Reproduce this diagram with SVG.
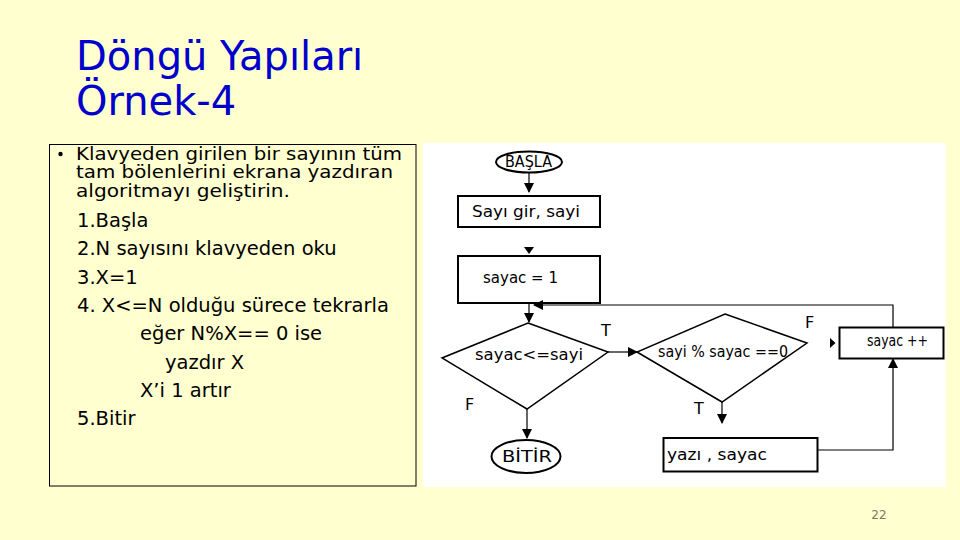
<svg xmlns="http://www.w3.org/2000/svg" width="960" height="540" viewBox="0 0 960 540">
  <style>
    .title { font-family: "DejaVu Sans", "Liberation Sans", sans-serif; font-size: 40px; fill: #0000CC; }
    .body { font-family: "DejaVu Sans", "Liberation Sans", sans-serif; font-size: 19.5px; fill: #000; }
    .tight { font-size: 17px; }
    .fc { font-family: "DejaVu Sans", "Liberation Sans", sans-serif; font-size: 15px; fill: #000; }
    .lbl { font-family: "DejaVu Sans", "Liberation Sans", sans-serif; font-size: 16px; fill: #000; }
    .shape { fill: #fff; stroke: #000; stroke-width: 2; }
    .dia { fill: #fff; stroke: #000; stroke-width: 1.5; }
    .conn { fill: none; stroke: #000; stroke-width: 1.2; }
    .head { fill: #000; }
  </style>
  <defs>
    <marker id="arr" markerUnits="userSpaceOnUse" markerWidth="10" markerHeight="10" refX="9" refY="5" orient="auto">
      <path d="M0,0 L10,5 L0,10 z" fill="#000"/>
    </marker>
  </defs>

  <rect x="0" y="0" width="960" height="540" fill="#FFFFD0"/>

  <g id="title">
    <text class="title" x="76" y="70">Döngü Yapıları</text>
    <text class="title" x="76" y="115">Örnek-4</text>
  </g>

  <g id="textbox">
    <rect x="49.5" y="144.5" width="366.5" height="341.5" fill="#FFFFD0" stroke="#000" stroke-width="1"/>
    <circle cx="60.5" cy="154" r="2.2" fill="#000"/>
    <text class="body tight" x="76" y="159.5" textLength="326" lengthAdjust="spacingAndGlyphs">Klavyeden girilen bir sayının tüm</text>
    <text class="body tight" x="76" y="178" textLength="317" lengthAdjust="spacingAndGlyphs">tam bölenlerini ekrana yazdıran</text>
    <text class="body tight" x="76" y="196.5" textLength="214" lengthAdjust="spacingAndGlyphs">algoritmayı geliştirin.</text>
    <text class="body" x="77" y="226.5">1.Başla</text>
    <text class="body" x="77" y="255">2.N sayısını klavyeden oku</text>
    <text class="body" x="77" y="283.5">3.X=1</text>
    <text class="body" x="77" y="311.5">4. X&lt;=N olduğu sürece tekrarla</text>
    <text class="body" x="140" y="340">eğer N%X== 0 ise</text>
    <text class="body" x="165" y="368.5">yazdır X</text>
    <text class="body" x="140" y="396.5">X’i 1 artır</text>
    <text class="body" x="77" y="425">5.Bitir</text>
  </g>

  <rect x="423" y="143" width="523" height="344" fill="#fff"/>

  <g id="n_basla">
    <ellipse class="shape" cx="529" cy="162" rx="33" ry="10.5" stroke-width="1.5"/>
    <text class="fc" x="505" y="167" font-size="14" textLength="47" lengthAdjust="spacingAndGlyphs">BAŞLA</text>
  </g>
  <g id="n_sayigir">
    <rect class="shape" x="458" y="196" width="142" height="31"/>
    <text class="fc" x="472" y="217" textLength="108" lengthAdjust="spacingAndGlyphs">Sayı gir,  sayi</text>
  </g>
  <g id="n_sayac1">
    <rect class="shape" x="458" y="256" width="142" height="47"/>
    <text class="fc" x="483" y="283" textLength="75" lengthAdjust="spacingAndGlyphs">sayac = 1</text>
  </g>
  <g id="n_cond1">
    <polygon class="dia" points="528,323 608,352 527,409 442,358"/>
    <text class="fc" x="475" y="360" textLength="108" lengthAdjust="spacingAndGlyphs">sayac&lt;=sayi</text>
  </g>
  <g id="n_cond2">
    <polygon class="dia" points="725,314 807,343 722,402 637,352"/>
    <text class="fc" x="658" y="357" textLength="130" lengthAdjust="spacingAndGlyphs">sayi % sayac ==0</text>
  </g>
  <g id="n_inc">
    <rect class="shape" x="839.5" y="327.5" width="104" height="31"/>
    <text class="fc" x="867" y="346" textLength="61" lengthAdjust="spacingAndGlyphs">sayac ++</text>
  </g>
  <g id="n_yaz">
    <rect class="shape" x="663.5" y="438" width="154" height="33.5"/>
    <text class="fc" x="667" y="460" textLength="100" lengthAdjust="spacingAndGlyphs">yazı , sayac</text>
  </g>
  <g id="n_bitir">
    <ellipse class="shape" cx="526" cy="456.5" rx="34.5" ry="16.5" stroke-width="1.5"/>
    <text class="fc" x="502" y="462" textLength="50" lengthAdjust="spacingAndGlyphs">BİTİR</text>
  </g>

  <g id="connectors">
    <line class="conn" x1="529" y1="172.5" x2="529" y2="192" marker-end="url(#arr)"/>
    <polygon class="head" points="524,247 534,247 529,254"/>
    <line class="conn" x1="529" y1="303" x2="529" y2="322" marker-end="url(#arr)"/>
    <polyline class="conn" points="893,327 893,305 534,305" marker-end="url(#arr)"/>
    <line class="conn" x1="608" y1="352" x2="637" y2="352" marker-end="url(#arr)"/>
    <line class="conn" x1="527" y1="409" x2="527" y2="438" stroke-width="2.2" marker-end="url(#arr)"/>
    <polygon class="head" points="830,338 830,348 835.5,343"/>
    <line class="conn" x1="722" y1="402" x2="722" y2="423" marker-end="url(#arr)"/>
    <polyline class="conn" points="818,450 893,450 893,359" marker-end="url(#arr)"/>
    <text class="lbl" x="601" y="336">T</text>
    <text class="lbl" x="465" y="410">F</text>
    <text class="lbl" x="805" y="328">F</text>
    <text class="lbl" x="694" y="414">T</text>
  </g>

  <text x="879" y="519" text-anchor="middle" font-family="DejaVu Sans, sans-serif" font-size="12" fill="#7a7a66">22</text>
</svg>
